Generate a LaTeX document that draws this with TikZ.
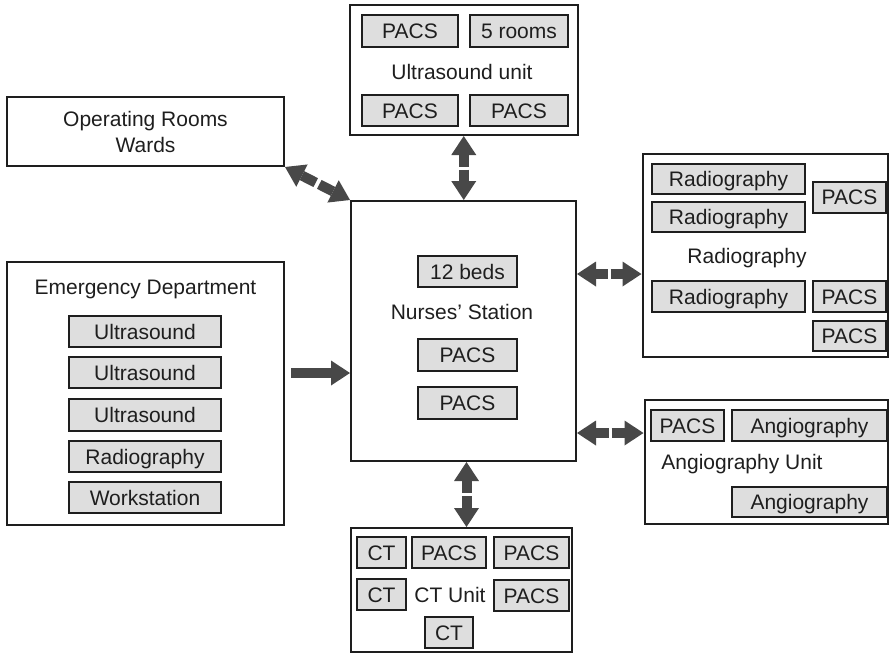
\documentclass[tikz,border=0pt]{standalone}
\usepackage{fontspec}
\setmainfont{Liberation Sans}
\usetikzlibrary{arrows.meta,calc}
\definecolor{boxfill}{RGB}{222,222,222}
\definecolor{arrowgray}{RGB}{72,72,72}
\definecolor{ink}{RGB}{30,30,30}
\begin{document}
\begin{tikzpicture}[x=1pt,y=-1pt,
  font=\fontsize{21}{26}\selectfont,
  outer/.style={draw=ink, line width=2pt, inner sep=0pt, text=ink},
  inbox/.style={draw=ink, fill=boxfill, line width=2pt, inner sep=0pt,
    minimum height=31pt, text height=15pt, text depth=0pt, text=ink},
  lbl/.style={inner sep=0pt, text height=15pt, text depth=0pt, text=ink},
  fat/.style={draw=arrowgray, line width=10pt,
    -{Triangle[width=25pt,length=19pt,line width=0pt]}}
  ]
\useasboundingbox (0,0) rectangle (889,654);

% Operating rooms / wards
\node[outer, minimum width=277pt, minimum height=69pt, align=center] (or) at (145.5,131.5) {Operating Rooms\\Wards};

% Ultrasound unit
\node[outer, minimum width=228pt, minimum height=130pt] (us) at (464,70) {};
\node[inbox, minimum width=96pt, minimum height=32pt] (us1) at (410,31) {PACS};
\node[inbox, minimum width=98pt, minimum height=32pt] (us2) at (519,31) {5 rooms};
\node[lbl] (usl) at (462,72) {Ultrasound unit};
\node[inbox, minimum width=96pt] (us3) at (410,110.5) {PACS};
\node[inbox, minimum width=98pt] (us4) at (519,110.5) {PACS};

% Nurses' station
\node[outer, minimum width=225pt, minimum height=260pt] (ns) at (463.5,331) {};
\node[inbox, minimum width=99pt] (ns1) at (467.5,271.5) {12 beds};
\node[lbl] (nsl) at (462,312) {Nurses’ Station};
\node[inbox, minimum width=99pt, minimum height=32pt] (ns2) at (467.5,355) {PACS};
\node[inbox, minimum width=99pt, minimum height=32pt] (ns3) at (467.5,403) {PACS};

% Emergency department
\node[outer, minimum width=277pt, minimum height=263pt] (ed) at (145.5,393.5) {};
\node[lbl] (edl) at (145.5,287) {Emergency Department};
\node[inbox, minimum width=152pt] (ed1) at (145,331.5) {Ultrasound};
\node[inbox, minimum width=152pt] (ed2) at (145,372.5) {Ultrasound};
\node[inbox, minimum width=152pt, minimum height=32pt] (ed3) at (145,415) {Ultrasound};
\node[inbox, minimum width=152pt] (ed4) at (145,456.5) {Radiography};
\node[inbox, minimum width=152pt] (ed5) at (145,497.5) {Workstation};

% Radiography
\node[outer, minimum width=245pt, minimum height=203pt] (rad) at (765,255.5) {};
\node[inbox, minimum width=153pt, minimum height=30pt] (r1) at (728.5,179) {Radiography};
\node[inbox, minimum width=153pt, minimum height=30pt] (r2) at (728.5,217) {Radiography};
\node[inbox, minimum width=73pt] (r3) at (849.5,197) {PACS};
\node[lbl] (radl) at (747,256) {Radiography};
\node[inbox, minimum width=153pt] (r4) at (728.5,296.5) {Radiography};
\node[inbox, minimum width=73pt] (r5) at (849.5,296.5) {PACS};
\node[inbox, minimum width=73pt, minimum height=30pt] (r6) at (849.5,336) {PACS};

% Angiography unit
\node[outer, minimum width=243pt, minimum height=124pt] (ang) at (766,462) {};
\node[inbox, minimum width=73pt] (a1) at (687.5,425.5) {PACS};
\node[inbox, minimum width=155pt] (a2) at (809.5,425.5) {Angiography};
\node[lbl] (angl) at (742,462) {Angiography Unit};
\node[inbox, minimum width=155pt, minimum height=30pt] (a3) at (809.5,502) {Angiography};

% CT unit
\node[outer, minimum width=221pt, minimum height=124pt] (ct) at (461.5,590) {};
\node[inbox, minimum width=49pt] (c1) at (381.5,552.5) {CT};
\node[inbox, minimum width=74pt] (c2) at (449,552.5) {PACS};
\node[inbox, minimum width=75pt] (c3) at (531.5,552.5) {PACS};
\node[inbox, minimum width=49pt] (c4) at (381.5,594.5) {CT};
\node[lbl] (ctl) at (450,595) {CT Unit};
\node[inbox, minimum width=75pt] (c5) at (531.5,595.5) {PACS};
\node[inbox, minimum width=48pt] (c6) at (449,632.5) {CT};

% Arrows
\coordinate (mt) at ($(us.south)!0.5!(ns.north)$);
\draw[fat] ($(mt)+(0,-1.5)$) -- (mt |- us.south);
\draw[fat] ($(mt)+(0,1.5)$) -- (mt |- ns.north);

\coordinate (mb) at ($(ns.south)!0.5!(ct.north)+(4,0)$);
\draw[fat] ($(mb)+(0,-1.5)$) -- (mb |- ns.south);
\draw[fat] ($(mb)+(0,1.5)$) -- (mb |- ct.north);

\coordinate (me) at ($(ed.east)+(6,-20.5)$);
\draw[fat] (me) -- (me -| ns.west);

\coordinate (mr) at (609,274);
\draw[fat] ($(mr)+(-1.5,0)$) -- (mr -| ns.east);
\draw[fat] ($(mr)+(1.5,0)$) -- (mr -| rad.west);

\coordinate (ma) at (610,433);
\draw[fat] ($(ma)+(-1.5,0)$) -- (ma -| ns.east);
\draw[fat] ($(ma)+(1.5,0)$) -- (ma -| ang.west);

\coordinate (md) at ($(or.south east)!0.5!(ns.north west)$);
\draw[fat] ($(md)!2pt!(or.south east)$) -- (or.south east);
\draw[fat] ($(md)!2pt!(ns.north west)$) -- (ns.north west);
\end{tikzpicture}
\end{document}
